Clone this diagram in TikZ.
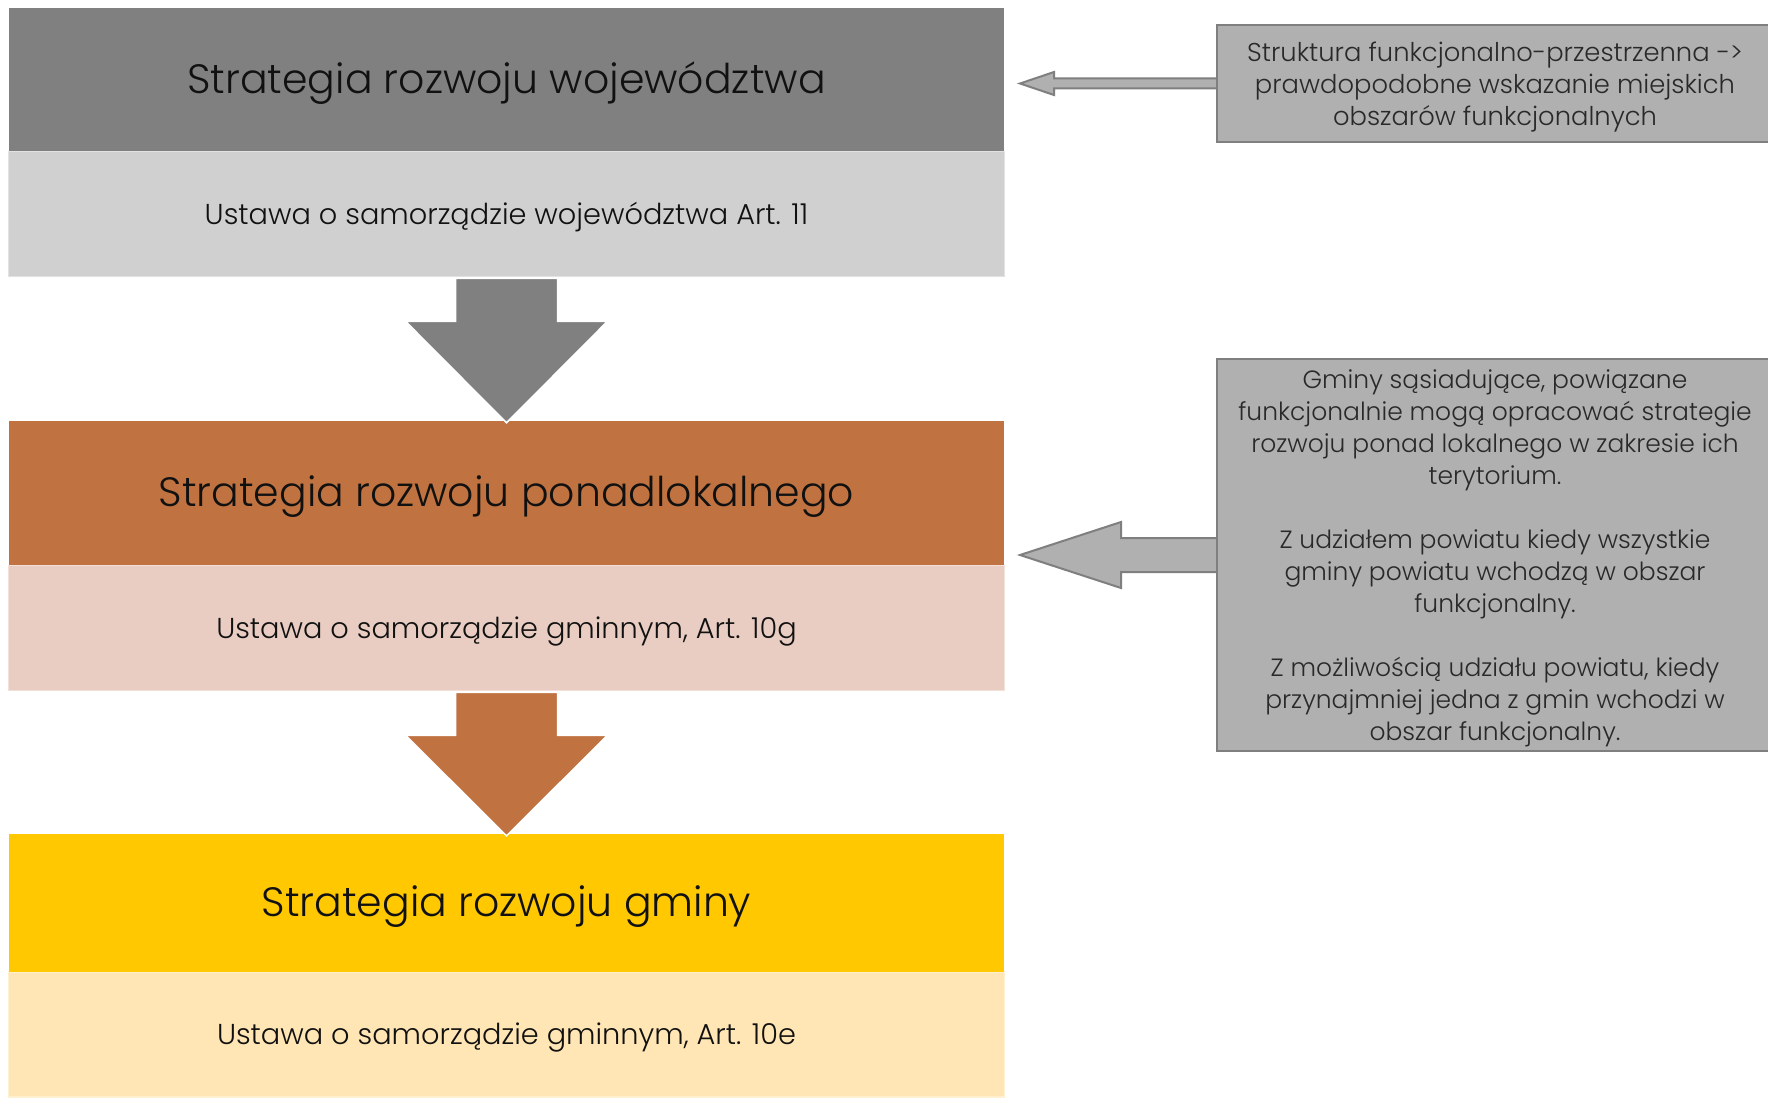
\documentclass[tikz,border=0pt]{standalone}
\usepackage{fontspec}
\setmainfont{Poppins Light}
\usetikzlibrary{calc}
\definecolor{dgray}{HTML}{808080}
\definecolor{lgray}{HTML}{D0D0D0}
\definecolor{lgrayb}{HTML}{E2E2E2}
\definecolor{orng}{HTML}{C07341}
\definecolor{pinkl}{HTML}{EACDC2}
\definecolor{pinkb}{HTML}{F3E0D9}
\definecolor{yell}{HTML}{FFC800}
\definecolor{yelll}{HTML}{FFE6B4}
\definecolor{yellb}{HTML}{FFF0D2}
\definecolor{boxgray}{HTML}{B0B0B0}
\definecolor{boxline}{HTML}{7F7F7F}
\definecolor{txt}{HTML}{111111}
\newcommand{\dn}[1]{\raisebox{-3.5pt}[\height][\depth]{#1}}
\tikzset{
  titlebox/.style={rectangle, inner sep=0pt, minimum width=995pt, text=txt,
    font=\fontsize{41}{49}\selectfont},
  lawbox/.style={rectangle, inner sep=0pt, minimum width=996pt, minimum height=125pt,
    line width=1.5pt, text=txt, font=\fontsize{28.8}{34}\selectfont},
  notebox/.style={rectangle, inner sep=0pt, fill=boxgray, draw=boxline, line width=2.5pt,
    text=txt!90, align=center, font=\fontsize{25}{32}\selectfont},
  downarrow/.style={draw=white, line width=1.5pt, line join=miter},
  sidearrow/.style={fill=boxgray, draw=boxline, line width=2pt, line join=miter}
}
\begin{document}
\begin{tikzpicture}[x=1pt,y=-1pt]
\fill[white] (0,0) rectangle (1768,1097);
\useasboundingbox (0,0) rectangle (1768,1097);

% level 1
\node[lawbox, fill=lgray, draw=lgrayb] (s1) at (506.5,214) {\dn{Ustawa o samorządzie województwa Art. 11}};
\node[titlebox, fill=dgray, minimum height=143pt] (t1) at (506.5,79.5) {\dn{Strategia rozwoju województwa}};

% level 2
\node[lawbox, fill=pinkl, draw=pinkb] (s2) at (506.5,628) {\dn{Ustawa o samorządzie gminnym, Art. 10g}};
\node[titlebox, fill=orng, minimum height=144pt] (t2) at (506.5,493) {\dn{Strategia rozwoju ponadlokalnego}};

% level 3
\node[lawbox, fill=yelll, draw=yellb] (s3) at (506.5,1034.5) {\dn{Ustawa o samorządzie gminnym, Art. 10e}};
\node[titlebox, fill=yell, minimum height=138pt] (t3) at (506.5,903) {\dn{Strategia rozwoju gminy}};

% down arrows
\filldraw[downarrow, fill=dgray]
  ($(s1.south)+(-51,1)$) -- ($(s1.south)+(51,1)$) -- ($(s1.south)+(51,44)$) --
  ($(s1.south)+(101,44)$) -- ($(t2.north)+(0,2)$) -- ($(s1.south)+(-101,44)$) --
  ($(s1.south)+(-51,44)$) -- cycle;
\filldraw[downarrow, fill=orng]
  ($(s2.south)+(-51,1)$) -- ($(s2.south)+(51,1)$) -- ($(s2.south)+(51,44)$) --
  ($(s2.south)+(101,44)$) -- ($(t3.north)+(0,2)$) -- ($(s2.south)+(-101,44)$) --
  ($(s2.south)+(-51,44)$) -- cycle;

% note boxes
\node[notebox, minimum width=556pt, minimum height=117pt, font=\fontsize{25.8}{32}\selectfont] (r1) at (1495,83.5)
  {\dn{\begin{tabular}{@{}c@{}}Struktura funkcjonalno-przestrzenna ->\\prawdopodobne wskazanie miejskich\\obszarów funkcjonalnych\end{tabular}}};
\node[notebox, minimum width=556pt, minimum height=392pt] (r2) at (1495,555)
  {\dn{\begin{tabular}{@{}c@{}}Gminy sąsiadujące, powiązane\\funkcjonalnie mogą opracować strategie\\rozwoju ponad lokalnego w zakresie ich\\terytorium.\\[32pt]Z udziałem powiatu kiedy wszystkie\\gminy powiatu wchodzą w obszar\\funkcjonalny.\\[32pt]Z możliwością udziału powiatu, kiedy\\przynajmniej jedna z gmin wchodzi w\\obszar funkcjonalny.\end{tabular}}};

% side arrows
\coordinate (p1) at (1020,83.5);
\coordinate (p2) at (1020,555);
\filldraw[sidearrow]
  ($(r1.west)+(0,-5)$) -- ($(p1)+(34,-5)$) -- ($(p1)+(34,-11.5)$) -- (p1) --
  ($(p1)+(34,11.5)$) -- ($(p1)+(34,5)$) -- ($(r1.west)+(0,5)$);
\filldraw[sidearrow]
  ($(r2.west)+(0,-17)$) -- ($(p2)+(101,-17)$) -- ($(p2)+(101,-33)$) -- (p2) --
  ($(p2)+(101,33)$) -- ($(p2)+(101,17)$) -- ($(r2.west)+(0,17)$);
\end{tikzpicture}
\end{document}
